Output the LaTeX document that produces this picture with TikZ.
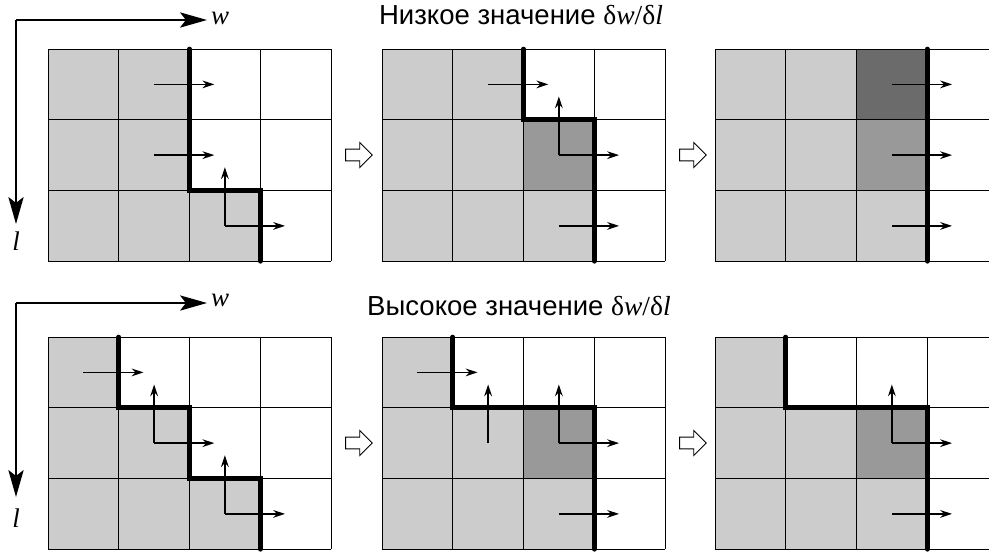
\documentclass[tikz,border=0pt]{standalone}
\usepackage{fontspec}
\setmainfont{Liberation Sans}
\newfontfamily\mathserif{Liberation Serif}
\usetikzlibrary{arrows.meta,shapes.arrows}
\tikzset{
    grid-box/.style = {shift={#1}, x=2.1225cm, y=-2.1225cm},
    cell-light/.style = {fill=black!20},
    cell-mid/.style = {fill=black!40},
    cell-dark/.style = {fill=black!58},
    grid-line/.style = {black, line width=0.6pt},
    front-line/.style = {black, line width=4pt, line cap=round},
    flow-arrow/.style = {-{Stealth[length=10pt, width=6.5pt]}, line width=1.5pt},
    axis-arrow/.style = {-{Stealth[length=23pt, width=13pt, inset=5pt]}, line width=1.4pt},
    step-arrow/.style = {single arrow, draw, line width=0.8pt, fill=white, inner sep=0.16cm, minimum width=0.72cm, minimum height=0.8cm, single arrow head extend=0.2cm},
    title/.style = {font=\fontsize{23.5}{28}\selectfont},
    axis-label/.style = {font=\mathserif\itshape\fontsize{23}{27}\selectfont},
}
\newcommand\cellfill[2]{\foreach \c/\r in {#2} \fill[#1] (\c,\r) rectangle ++(1,1);}
\newcommand\gridframe{\foreach \i in {0,...,4} \draw[grid-line] (\i,0) -- (\i,3);
    \foreach \j in {0,...,3} \draw[grid-line] (0,\j) -- (4,\j);}
\newcommand\flowright[2]{\draw[flow-arrow] (#1+.5,#2+.5) -- ++(.85,0);}
\newcommand\flowup[2]{\draw[flow-arrow] (#1+.5,#2+.5) -- ++(0,-.83);}

\begin{document}
\begin{tikzpicture}[x=0.03cm, y=-0.03cm]
\useasboundingbox (0,0) rectangle (989,551);
\clip (0,0) rectangle (989,551);

\coordinate (o1) at (16,20);
\coordinate (w1) at (207,20);
\coordinate (l1) at (16,224);
\draw[axis-arrow] (o1) -- (w1);
\draw[axis-arrow] (o1) -- (l1);
\node[axis-label] (w-low) at (220,18) {w};
\node[axis-label] (l-low) at (16,241) {l};
\node[title] (low) at (521,15) {Низкое значение {\mathserif δ\textit{w}/δ\textit{l}}};

\coordinate (o2) at (16,303);
\coordinate (w2) at (207,303);
\coordinate (l2) at (16,497);
\draw[axis-arrow] (o2) -- (w2);
\draw[axis-arrow] (o2) -- (l2);
\node[axis-label] (w-high) at (220,300) {w};
\node[axis-label] (l-high) at (16,518) {l};
\node[title] (high) at (519,306) {Высокое значение {\mathserif δ\textit{w}/δ\textit{l}}};

\begin{scope}[grid-box={(48,49)}]
  \cellfill{cell-light}{0/0,1/0,0/1,1/1,0/2,1/2,2/2}
  \gridframe
  \draw[front-line] (2,0) -- (2,2) -- (3,2) -- (3,3);
  \flowright{1}{0} \flowright{1}{1} \flowup{2}{2} \flowright{2}{2}
\end{scope}
\begin{scope}[grid-box={(382,49)}]
  \cellfill{cell-light}{0/0,1/0,0/1,1/1,0/2,1/2,2/2}
  \cellfill{cell-mid}{2/1}
  \gridframe
  \draw[front-line] (2,0) -- (2,1) -- (3,1) -- (3,3);
  \flowright{1}{0} \flowup{2}{1} \flowright{2}{1} \flowright{2}{2}
\end{scope}
\begin{scope}[grid-box={(715,49)}]
  \cellfill{cell-light}{0/0,1/0,0/1,1/1,0/2,1/2,2/2}
  \cellfill{cell-mid}{2/1}
  \cellfill{cell-dark}{2/0}
  \gridframe
  \draw[front-line] (3,0) -- (3,3);
  \flowright{2}{0} \flowright{2}{1} \flowright{2}{2}
\end{scope}

\begin{scope}[grid-box={(48,337)}]
  \cellfill{cell-light}{0/0,0/1,1/1,0/2,1/2,2/2}
  \gridframe
  \draw[front-line] (1,0) -- (1,1) -- (2,1) -- (2,2) -- (3,2) -- (3,3);
  \flowright{0}{0} \flowup{1}{1} \flowright{1}{1} \flowup{2}{2} \flowright{2}{2}
\end{scope}
\begin{scope}[grid-box={(382,337)}]
  \cellfill{cell-light}{0/0,0/1,1/1,0/2,1/2,2/2}
  \cellfill{cell-mid}{2/1}
  \gridframe
  \draw[front-line] (1,0) -- (1,1) -- (3,1) -- (3,3);
  \flowright{0}{0} \flowup{1}{1} \flowup{2}{1} \flowright{2}{1} \flowright{2}{2}
\end{scope}
\begin{scope}[grid-box={(715,337)}]
  \cellfill{cell-light}{0/0,0/1,1/1,0/2,1/2,2/2}
  \cellfill{cell-mid}{2/1}
  \gridframe
  \draw[front-line] (1,0) -- (1,1) -- (3,1) -- (3,3);
  \flowup{2}{1} \flowright{2}{1} \flowright{2}{2}
\end{scope}

\node[step-arrow] (next-low-a) at (356,155) {};
\node[step-arrow] (next-low-b) at (690,155) {};
\node[step-arrow] (next-high-a) at (356,443) {};
\node[step-arrow] (next-high-b) at (690,443) {};
\end{tikzpicture}
\end{document}
